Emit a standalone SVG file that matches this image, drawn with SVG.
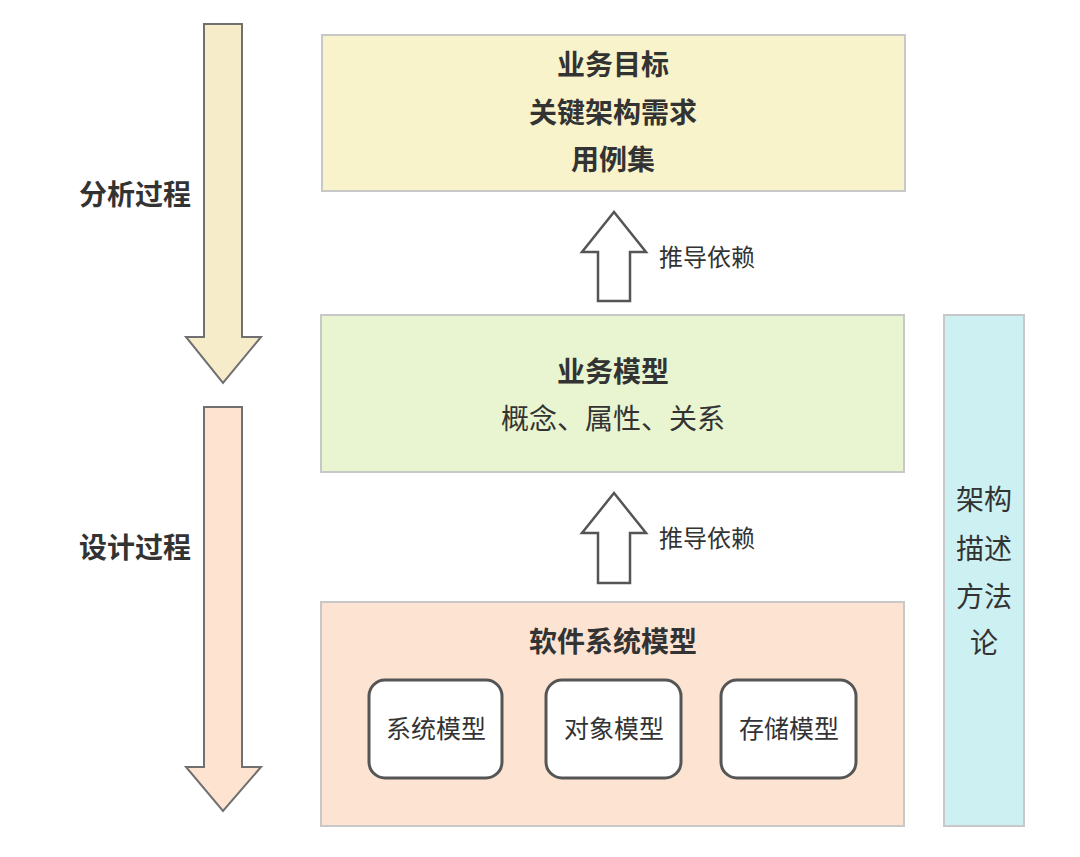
<svg xmlns="http://www.w3.org/2000/svg" width="1080" height="857" viewBox="0 0 1080 857">
<style>
text{font-family:"Noto Sans CJK SC","Noto Sans",sans-serif;fill:#333;text-anchor:middle;dominant-baseline:central}
.b{font-weight:bold;font-size:28px}
.n{font-size:28px}
.m{font-size:25px}
.s{font-size:24px;text-anchor:start}
.box{stroke:#c8c8c8;stroke-width:2}
.inner{fill:#fff;stroke:#555;stroke-width:3}
.down{stroke:#707070;stroke-width:2}
.up{fill:#fff;stroke:#555;stroke-width:2.5}
</style>
<rect width="1080" height="857" fill="#fff"/>
<g id="analysis">
<path class="down" fill="#f7ecc9" d="M204,24 H242 V337 H261 L223,383 L186,337 H204 Z"/>
<text class="b" x="135" y="193">分析过程</text>
</g>
<g id="design">
<path class="down" fill="#fde3d0" d="M204,407 H242 V767 H261 L223,811 L186,767 H204 Z"/>
<text class="b" x="135" y="546">设计过程</text>
</g>
<g id="goals">
<rect class="box" x="322" y="35" width="583" height="156" fill="#f9f3cb"/>
<text class="b" x="613" y="63">业务目标</text>
<text class="b" x="613" y="111">关键架构需求</text>
<text class="b" x="613" y="158">用例集</text>
</g>
<g id="business">
<rect class="box" x="321" y="315" width="583" height="157" fill="#e8f5d0"/>
<text class="b" x="613" y="370">业务模型</text>
<text class="n" x="613" y="417">概念、属性、关系</text>
</g>
<g id="software">
<rect class="box" x="321" y="602" width="583" height="224" fill="#fde4d2"/>
<text class="b" x="613" y="640">软件系统模型</text>
</g>
<g id="sys">
<rect class="inner" x="369" y="680" width="133" height="98" rx="16"/>
<text class="m" x="436" y="727">系统模型</text>
</g>
<g id="obj">
<rect class="inner" x="546" y="680" width="135" height="98" rx="16"/>
<text class="m" x="614" y="727">对象模型</text>
</g>
<g id="store">
<rect class="inner" x="721" y="680" width="135" height="98" rx="16"/>
<text class="m" x="789" y="727">存储模型</text>
</g>
<g id="method">
<rect class="box" x="944" y="315" width="80" height="511" fill="#cdf1f2"/>
<text class="n" x="984" y="498">架构</text>
<text class="n" x="984" y="547">描述</text>
<text class="n" x="984" y="595">方法</text>
<text class="n" x="984" y="641">论</text>
</g>
<g id="connectors">
<path class="up" d="M598,301 V252 H582 L614,212 L646,252 H630 V301 Z"/>
<text class="s" x="659" y="255">推导依赖</text>
<path class="up" d="M598,583 V533 H582 L614,493 L646,533 H630 V583 Z"/>
<text class="s" x="659" y="536">推导依赖</text>
</g>
</svg>
